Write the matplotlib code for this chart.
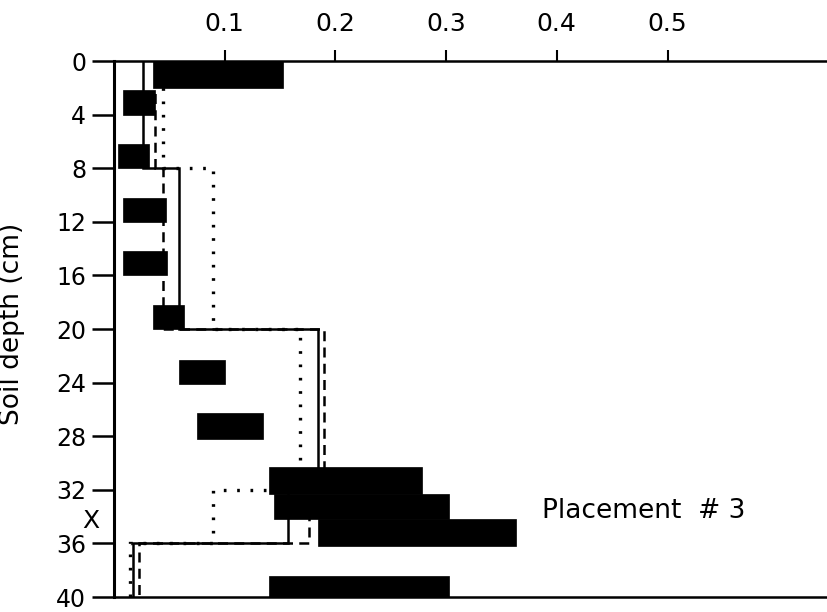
#! /usr/bin/env python3

import matplotlib
matplotlib.use('Agg')
import matplotlib.pyplot as plt
import numpy as np

# black bars: depth interval (cm) and concentration range
bar_top = [0, 2.2, 6.2, 10.2, 14.2, 18.2, 22.3, 26.3, 30.3, 32.3, 34.2, 38.4]
bar_bot = [2, 4, 8, 12, 16, 20, 24.1, 28.2, 32.3, 34.2, 36.2, 40]
bar_lo = [0.035, 0.008, 0.004, 0.008, 0.008, 0.035, 0.059, 0.075, 0.140, 0.145, 0.184, 0.140]
bar_hi = [0.153, 0.037, 0.032, 0.047, 0.048, 0.063, 0.100, 0.135, 0.278, 0.303, 0.363, 0.303]

# step profiles
layer_edges = [0, 8, 20, 32, 36, 40]
solid_vals = [0.026, 0.059, 0.184, 0.157, 0.017]
dashed_vals = [0.037, 0.044, 0.190, 0.176, 0.023]
dotted_vals = [0.044, 0.090, 0.168, 0.090, 0.015]

xticks = [0.1, 0.2, 0.3, 0.4, 0.5]
yticks = list(range(0, 41, 4))

fig = plt.figure(figsize=(8.27, 6.12), dpi=100)
ax = fig.add_axes([0.1376, 0.0245, 0.8624, 0.8758])

ax.stairs(solid_vals, layer_edges, orientation='horizontal', baseline=None,
          color='black', lw=1.8, zorder=2)
ax.stairs(dashed_vals, layer_edges, orientation='horizontal', baseline=None,
          color='black', lw=1.8, linestyle=(0, (4, 2.5)), zorder=2)
ax.stairs(dotted_vals, layer_edges, orientation='horizontal', baseline=None,
          color='black', lw=2.4, linestyle=(0, (0.8, 3.2)), zorder=2)

heights = np.array(bar_bot) - np.array(bar_top)
widths = np.array(bar_hi) - np.array(bar_lo)
ax.barh(bar_top, widths, left=bar_lo, height=heights, align='edge',
        color='black', edgecolor='black', lw=0.5, zorder=3)

ax.set_xlim(0, 0.644)
ax.set_ylim(40, 0)
ax.xaxis.tick_top()
ax.set_xticks(xticks)
ax.set_xticklabels([str(t) for t in xticks])
ax.set_yticks(yticks)
ax.tick_params(axis='x', direction='out', length=8, width=1.5, pad=10, labelsize=18)
ax.tick_params(axis='y', direction='out', length=16, width=1.8, pad=4, labelsize=17)

ax.spines['right'].set_visible(False)
ax.spines['left'].set_linewidth(2.2)
ax.spines['top'].set_linewidth(1.8)
ax.spines['bottom'].set_linewidth(1.8)

ax.set_ylabel('Soil depth (cm)', fontsize=19)
ax.yaxis.set_label_coords(-0.125, 0.51)

ax.text(-0.0206, 34.3, 'X', fontsize=18, ha='center', va='center', clip_on=False)
ax.text(0.387, 33.6, 'Placement  # 3', fontsize=19, ha='left', va='center')

plt.savefig('out.png', dpi=100)
